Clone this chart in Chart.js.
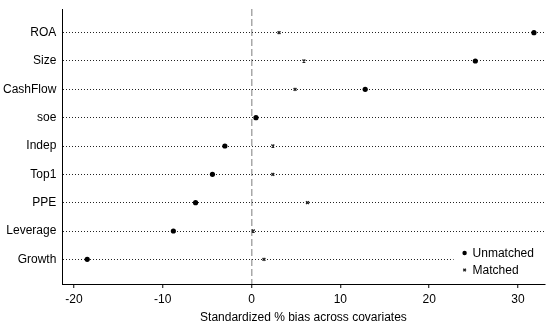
<!DOCTYPE html>
<html>
<head>
<meta charset="utf-8">
<script src="https://cdn.jsdelivr.net/npm/chart.js@4/dist/chart.umd.min.js"></script>
<style>
  body { margin: 0; background: #fff; }
</style>
</head>
<body>
<canvas id="biasChart" width="550" height="326"></canvas>
<script>
const covariates = ['ROA', 'Size', 'CashFlow', 'soe', 'Indep', 'Top1', 'PPE', 'Leverage', 'Growth'];
const unmatched = [31.8, 25.2, 12.8, 0.5, -3.0, -4.4, -6.3, -8.8, -18.5];
const matched = [3.1, 5.9, 4.9, 0.5, 2.4, 2.4, 6.3, 0.2, 1.4];
const xTicks = [-20, -10, 0, 10, 20, 30];

const font = { family: "'Liberation Sans', Arial, sans-serif", size: 12 };

// legend in a white box at the lower right of the plot
const boxLegend = {
    id: 'boxLegend',
    afterDatasetsDraw(chart) {
        const { ctx, chartArea } = chart;
        const w = 91, h = 34;
        const x0 = chartArea.right - w;
        const y0 = chartArea.bottom - h - 5;
        ctx.save();
        ctx.fillStyle = '#fff';
        ctx.fillRect(x0, y0, w, h);
        ctx.font = `${font.size}px ${font.family}`;
        ctx.textBaseline = 'middle';
        chart.data.datasets.forEach((ds, i) => {
            const cy = y0 + 8 + i * 17;
            ctx.fillStyle = ds.backgroundColor;
            ctx.strokeStyle = ds.borderColor;
            ctx.lineWidth = ds.borderWidth;
            Chart.helpers.drawPoint(ctx, {
                pointStyle: ds.pointStyle,
                radius: ds.pointStyle === 'circle' ? 2.2 : 1.8,
                borderWidth: ds.borderWidth,
                rotation: 0
            }, x0 + 11, cy);
            ctx.fillStyle = '#000';
            ctx.fillText(ds.label, x0 + 19, cy + 1);
        });
        ctx.restore();
    }
};

const config = {
    type: 'scatter',
    data: {
        datasets: [
            {
                label: 'Unmatched',
                data: unmatched.map((v, i) => ({ x: v, y: i })),
                pointStyle: 'circle',
                pointRadius: 2.6,
                backgroundColor: '#000',
                borderColor: '#000',
                borderWidth: 0
            },
            {
                label: 'Matched',
                data: matched.map((v, i) => ({ x: v, y: i })),
                pointStyle: 'crossRot',
                pointRadius: 2,
                backgroundColor: '#222',
                borderColor: '#222',
                borderWidth: 1.4
            }
        ]
    },
    options: {
        responsive: false,
        animation: false,
        layout: { padding: { left: -3, right: 4, top: 0, bottom: 2 } },
        plugins: {
            legend: { display: false },
            tooltip: { enabled: false }
        },
        scales: {
            x: {
                type: 'linear',
                position: 'bottom',
                min: -21.3,
                max: 33,
                afterBuildTicks: (scale) => { scale.ticks = xTicks.map(v => ({ value: v })); },
                ticks: { font: { ...font, lineHeight: 1 }, color: '#000', padding: 6 },
                grid: {
                    color: (c) => (c.tick && c.tick.value === 0) ? '#a8a8a8' : 'rgba(0,0,0,0)',
                    lineWidth: 1.5,
                    tickColor: '#000',
                    tickWidth: 1,
                    tickLength: 4
                },
                border: { display: true, color: '#000', width: 1, dash: [7, 3] },
                title: {
                    display: true,
                    text: 'Standardized % bias across covariates',
                    font: { ...font, lineHeight: 1 },
                    color: '#000',
                    padding: { top: 0, bottom: 0 }
                }
            },
            y: {
                type: 'linear',
                reverse: true,
                min: -0.835,
                max: 8.87,
                afterBuildTicks: (scale) => { scale.ticks = covariates.map((_, i) => ({ value: i })); },
                ticks: {
                    font: { ...font, lineHeight: 0.5 },
                    color: '#000',
                    padding: 6,
                    callback: (v) => covariates[v]
                },
                grid: { color: '#222', lineWidth: 1, drawTicks: false },
                border: { display: true, color: '#000', width: 1, dash: [1, 2] }
            }
        }
    },
    plugins: [boxLegend]
};

const myChart = new Chart(document.getElementById('biasChart'), config);
</script>
</body>
</html>
